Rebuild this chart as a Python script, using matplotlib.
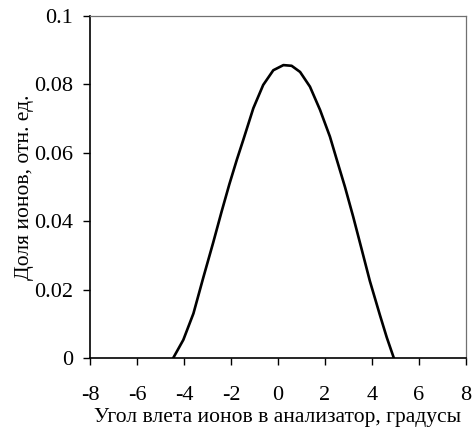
import numpy as np
import matplotlib
matplotlib.use('Agg')
import matplotlib.pyplot as plt

plt.rcParams['font.family'] = ['Liberation Serif', 'DejaVu Serif']
plt.rcParams['axes.unicode_minus'] = False

# angle of ion entry (deg) and relative ion fraction
angle = [-4.46, -4.03, -3.60, -3.18, -2.76, -2.40, -2.07, -1.75, -1.48, -1.05,
         -0.63, -0.20, 0.23, 0.58, 0.94, 1.36, 1.79, 2.21, 2.50, 2.85,
         3.20, 3.56, 3.91, 4.34, 4.63, 4.93]
fraction = [0.0, 0.0053, 0.0130, 0.0235, 0.0337, 0.0428, 0.0508, 0.0580, 0.0637, 0.0730,
            0.0798, 0.0841, 0.0856, 0.0854, 0.0836, 0.0793, 0.0725, 0.0647, 0.0580, 0.0500,
            0.0413, 0.0318, 0.0225, 0.0125, 0.0060, 0.0]

xticks = [-8, -6, -4, -2, 0, 2, 4, 6, 8]
yticks = [0, 0.02, 0.04, 0.06, 0.08, 0.1]
ylabels = ['0', '0.02', '0.04', '0.06', '0.08', '0.1']

fig = plt.figure(figsize=(4.74, 4.28), dpi=100)
ax = fig.add_axes([0.19, 0.1636, 0.793, 0.7994])

ax.plot(angle, fraction, color='black', lw=1.9, solid_joinstyle='round')

ax.set_xlim(-8, 8)
ax.set_ylim(0, 0.1)
ax.set_xticks(xticks)
ax.set_xticklabels([str(t) for t in xticks])
ax.set_yticks(yticks)
ax.set_yticklabels(ylabels)

ax.tick_params(axis='x', direction='out', length=5, width=1, pad=15, labelsize=16)
ax.tick_params(axis='y', direction='out', length=5, width=1, pad=7, labelsize=16)

for s in ['left', 'bottom']:
    ax.spines[s].set_linewidth(1.2)
    ax.spines[s].set_color('black')
for s in ['top', 'right']:
    ax.spines[s].set_linewidth(0.9)
    ax.spines[s].set_color('#707070')

ax.set_xlabel('Угол влета ионов в анализатор, градусы', fontsize=15.5, labelpad=2)
ax.set_ylabel('Доля ионов, отн. ед.', fontsize=15.5, labelpad=0)

fig.savefig('out.png', dpi=100)
